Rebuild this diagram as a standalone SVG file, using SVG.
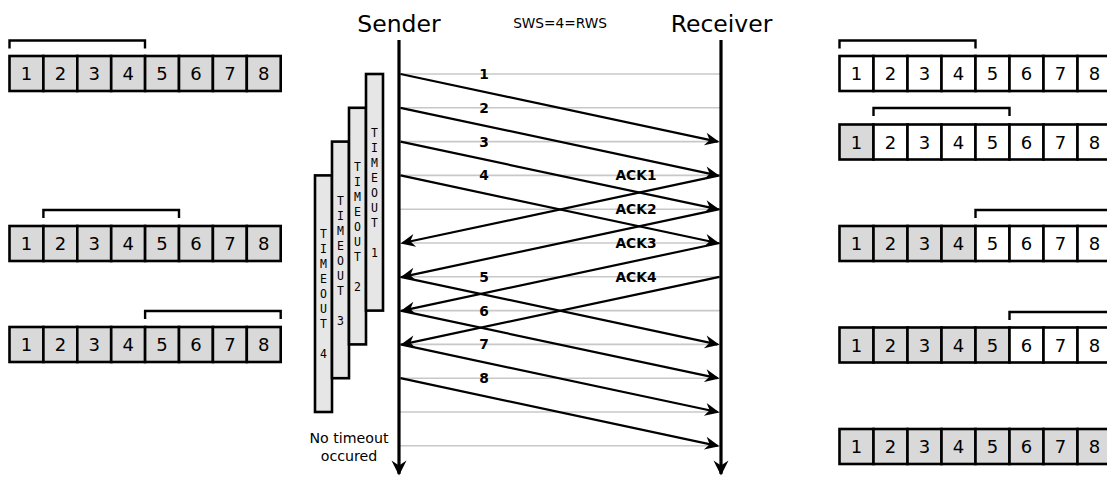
<svg xmlns="http://www.w3.org/2000/svg" width="1107" height="477" viewBox="0 0 1107 477">
<style>
.cell{stroke:#000;stroke-width:2.6}
.g{fill:#d9d9d9}
.w{fill:#fff}
.num{font-family:"DejaVu Sans",sans-serif;font-size:18px;text-anchor:middle;fill:#000}
.br{fill:none;stroke:#000;stroke-width:2.4}
.grid{stroke:#c8c8c8;stroke-width:1.6}
.arr{stroke:#000;stroke-width:2.2;fill:none;marker-end:url(#ah)}
.life{stroke:#000;stroke-width:3.2;fill:none;marker-end:url(#ahb)}
.lbl{font-family:"DejaVu Sans",sans-serif;font-size:13.8px;font-weight:bold;text-anchor:middle}
.to{fill:#e6e6e6;stroke:#000;stroke-width:2.6}
.tot{font-family:"DejaVu Sans Mono",monospace;font-size:11.5px;text-anchor:middle}
.hd{font-family:"DejaVu Sans",sans-serif;font-size:23.5px;text-anchor:middle}
</style>
<defs>
<marker id="ah" markerUnits="userSpaceOnUse" markerWidth="18" markerHeight="16" refX="14" refY="8" orient="auto" overflow="visible">
<path d="M16,8 L1.5,1.5 L6,8 L1.5,14.5 Z" fill="#000"/>
</marker>
<marker id="ahb" markerUnits="userSpaceOnUse" markerWidth="18" markerHeight="16" refX="14" refY="8" orient="auto" overflow="visible">
<path d="M15.5,8 L0.5,0.5 L5.5,8 L0.5,15.5 Z" fill="#000"/>
</marker>
</defs>
<rect width="1107" height="477" fill="#fff"/>

<g id="headers">
<text class="hd" x="399" y="31.5">Sender</text>
<text class="hd" x="721.5" y="31.5">Receiver</text>
<text x="560" y="28" font-family="DejaVu Sans, sans-serif" font-size="13.7px" text-anchor="middle">SWS=4=RWS</text>
</g>

<g id="connectors">
<g id="grid">
<line class="grid" x1="399" y1="74" x2="721" y2="74"/>
<line class="grid" x1="399" y1="107.8" x2="721" y2="107.8"/>
<line class="grid" x1="399" y1="141.6" x2="721" y2="141.6"/>
<line class="grid" x1="399" y1="175.4" x2="721" y2="175.4"/>
<line class="grid" x1="399" y1="209.2" x2="721" y2="209.2"/>
<line class="grid" x1="399" y1="243" x2="721" y2="243"/>
<line class="grid" x1="399" y1="276.8" x2="721" y2="276.8"/>
<line class="grid" x1="399" y1="310.6" x2="721" y2="310.6"/>
<line class="grid" x1="399" y1="344.4" x2="721" y2="344.4"/>
<line class="grid" x1="399" y1="378.2" x2="721" y2="378.2"/>
<line class="grid" x1="399" y1="412" x2="721" y2="412"/>
<line class="grid" x1="399" y1="445.8" x2="721" y2="445.8"/>
</g>
<g id="packets">
<line class="arr" x1="400.5" y1="74" x2="717.5" y2="141.6"/>
<line class="arr" x1="400.5" y1="107.8" x2="717.5" y2="175.4"/>
<line class="arr" x1="400.5" y1="141.6" x2="717.5" y2="209.2"/>
<line class="arr" x1="400.5" y1="175.4" x2="717.5" y2="243"/>
<line class="arr" x1="400.5" y1="276.8" x2="717.5" y2="344.4"/>
<line class="arr" x1="400.5" y1="310.6" x2="717.5" y2="378.2"/>
<line class="arr" x1="400.5" y1="344.4" x2="717.5" y2="412"/>
<line class="arr" x1="400.5" y1="378.2" x2="717.5" y2="445.8"/>
</g>
<g id="acks">
<line class="arr" x1="719.5" y1="175.4" x2="402.5" y2="243"/>
<line class="arr" x1="719.5" y1="209.2" x2="402.5" y2="276.8"/>
<line class="arr" x1="719.5" y1="243" x2="402.5" y2="310.6"/>
<line class="arr" x1="719.5" y1="276.8" x2="402.5" y2="344.4"/>
</g>
<g id="labels">
<text class="lbl" x="484" y="79">1</text>
<text class="lbl" x="484" y="112.8">2</text>
<text class="lbl" x="484" y="146.6">3</text>
<text class="lbl" x="484" y="180.4">4</text>
<text class="lbl" x="484" y="281.8">5</text>
<text class="lbl" x="484" y="315.6">6</text>
<text class="lbl" x="484" y="349.4">7</text>
<text class="lbl" x="484" y="383.2">8</text>
<text class="lbl" x="636" y="180.4">ACK1</text>
<text class="lbl" x="636" y="214.2">ACK2</text>
<text class="lbl" x="636" y="248">ACK3</text>
<text class="lbl" x="636" y="281.8">ACK4</text>
</g>
</g>

<g id="sender">
<line class="life" x1="399" y1="40" x2="399" y2="474"/>
</g>
<g id="receiver">
<line class="life" x1="721" y1="40" x2="721" y2="474"/>
</g>

<g id="timeout4">
<rect class="to" x="315" y="175.4" width="17" height="236.6"/>
<text class="tot" x="323.5" y="238.4">T<tspan x="323.5" dy="15">I</tspan><tspan x="323.5" dy="15">M</tspan><tspan x="323.5" dy="15">E</tspan><tspan x="323.5" dy="15">O</tspan><tspan x="323.5" dy="15">U</tspan><tspan x="323.5" dy="15">T</tspan><tspan x="323.5" dy="30">4</tspan></text>
</g>
<g id="timeout3">
<rect class="to" x="332" y="141.6" width="17" height="236.6"/>
<text class="tot" x="340.5" y="204.6">T<tspan x="340.5" dy="15">I</tspan><tspan x="340.5" dy="15">M</tspan><tspan x="340.5" dy="15">E</tspan><tspan x="340.5" dy="15">O</tspan><tspan x="340.5" dy="15">U</tspan><tspan x="340.5" dy="15">T</tspan><tspan x="340.5" dy="30">3</tspan></text>
</g>
<g id="timeout2">
<rect class="to" x="349" y="107.8" width="17" height="236.6"/>
<text class="tot" x="357.5" y="170.8">T<tspan x="357.5" dy="15">I</tspan><tspan x="357.5" dy="15">M</tspan><tspan x="357.5" dy="15">E</tspan><tspan x="357.5" dy="15">O</tspan><tspan x="357.5" dy="15">U</tspan><tspan x="357.5" dy="15">T</tspan><tspan x="357.5" dy="30">2</tspan></text>
</g>
<g id="timeout1">
<rect class="to" x="366" y="74" width="17" height="236.6"/>
<text class="tot" x="374.5" y="137">T<tspan x="374.5" dy="15">I</tspan><tspan x="374.5" dy="15">M</tspan><tspan x="374.5" dy="15">E</tspan><tspan x="374.5" dy="15">O</tspan><tspan x="374.5" dy="15">U</tspan><tspan x="374.5" dy="15">T</tspan><tspan x="374.5" dy="30">1</tspan></text>
</g>
<g id="note">
<text x="349" y="443" font-family="DejaVu Sans, sans-serif" font-size="14.2px" text-anchor="middle">No timeout<tspan x="349" dy="18">occured</tspan></text>
</g>

<g id="sender-window-1">
<path class="br" d="M9.5,48.5 V40.5 H145 V48.5"/>
<g transform="translate(9.5,56)">
<rect class="cell g" x="0" y="0" width="33.9" height="35"/><rect class="cell g" x="33.9" y="0" width="33.9" height="35"/><rect class="cell g" x="67.8" y="0" width="33.9" height="35"/><rect class="cell g" x="101.7" y="0" width="33.9" height="35"/><rect class="cell g" x="135.6" y="0" width="33.9" height="35"/><rect class="cell g" x="169.5" y="0" width="33.9" height="35"/><rect class="cell g" x="203.4" y="0" width="33.9" height="35"/><rect class="cell g" x="237.3" y="0" width="33.9" height="35"/>
<text class="num" y="24"><tspan x="17">1</tspan><tspan x="50.9">2</tspan><tspan x="84.8">3</tspan><tspan x="118.7">4</tspan><tspan x="152.6">5</tspan><tspan x="186.5">6</tspan><tspan x="220.4">7</tspan><tspan x="254.3">8</tspan></text>
</g>
</g>
<g id="sender-window-2">
<path class="br" d="M43.4,218 V210 H179 V218"/>
<g transform="translate(9.5,226)">
<rect class="cell g" x="0" y="0" width="33.9" height="35"/><rect class="cell g" x="33.9" y="0" width="33.9" height="35"/><rect class="cell g" x="67.8" y="0" width="33.9" height="35"/><rect class="cell g" x="101.7" y="0" width="33.9" height="35"/><rect class="cell g" x="135.6" y="0" width="33.9" height="35"/><rect class="cell g" x="169.5" y="0" width="33.9" height="35"/><rect class="cell g" x="203.4" y="0" width="33.9" height="35"/><rect class="cell g" x="237.3" y="0" width="33.9" height="35"/>
<text class="num" y="24"><tspan x="17">1</tspan><tspan x="50.9">2</tspan><tspan x="84.8">3</tspan><tspan x="118.7">4</tspan><tspan x="152.6">5</tspan><tspan x="186.5">6</tspan><tspan x="220.4">7</tspan><tspan x="254.3">8</tspan></text>
</g>
</g>
<g id="sender-window-3">
<path class="br" d="M145.1,319 V311 H280.7 V319"/>
<g transform="translate(9.5,327)">
<rect class="cell g" x="0" y="0" width="33.9" height="35"/><rect class="cell g" x="33.9" y="0" width="33.9" height="35"/><rect class="cell g" x="67.8" y="0" width="33.9" height="35"/><rect class="cell g" x="101.7" y="0" width="33.9" height="35"/><rect class="cell g" x="135.6" y="0" width="33.9" height="35"/><rect class="cell g" x="169.5" y="0" width="33.9" height="35"/><rect class="cell g" x="203.4" y="0" width="33.9" height="35"/><rect class="cell g" x="237.3" y="0" width="33.9" height="35"/>
<text class="num" y="24"><tspan x="17">1</tspan><tspan x="50.9">2</tspan><tspan x="84.8">3</tspan><tspan x="118.7">4</tspan><tspan x="152.6">5</tspan><tspan x="186.5">6</tspan><tspan x="220.4">7</tspan><tspan x="254.3">8</tspan></text>
</g>
</g>

<g id="receiver-window-1">
<path class="br" d="M839.5,48.5 V40.5 H975.5 V48.5"/>
<g transform="translate(839.5,56)">
<rect class="cell w" x="0" y="0" width="34" height="35"/><rect class="cell w" x="34" y="0" width="34" height="35"/><rect class="cell w" x="68" y="0" width="34" height="35"/><rect class="cell w" x="102" y="0" width="34" height="35"/><rect class="cell w" x="136" y="0" width="34" height="35"/><rect class="cell w" x="170" y="0" width="34" height="35"/><rect class="cell w" x="204" y="0" width="34" height="35"/><rect class="cell w" x="238" y="0" width="34" height="35"/>
<text class="num" y="24"><tspan x="17">1</tspan><tspan x="51">2</tspan><tspan x="85">3</tspan><tspan x="119">4</tspan><tspan x="153">5</tspan><tspan x="187">6</tspan><tspan x="221">7</tspan><tspan x="255">8</tspan></text>
</g>
</g>
<g id="receiver-window-2">
<path class="br" d="M873.5,116 V108 H1009.5 V116"/>
<g transform="translate(839.5,124.5)">
<rect class="cell g" x="0" y="0" width="34" height="35"/><rect class="cell w" x="34" y="0" width="34" height="35"/><rect class="cell w" x="68" y="0" width="34" height="35"/><rect class="cell w" x="102" y="0" width="34" height="35"/><rect class="cell w" x="136" y="0" width="34" height="35"/><rect class="cell w" x="170" y="0" width="34" height="35"/><rect class="cell w" x="204" y="0" width="34" height="35"/><rect class="cell w" x="238" y="0" width="34" height="35"/>
<text class="num" y="24"><tspan x="17">1</tspan><tspan x="51">2</tspan><tspan x="85">3</tspan><tspan x="119">4</tspan><tspan x="153">5</tspan><tspan x="187">6</tspan><tspan x="221">7</tspan><tspan x="255">8</tspan></text>
</g>
</g>
<g id="receiver-window-3">
<path class="br" d="M975.5,218 V210 H1111.5 V218"/>
<g transform="translate(839.5,226)">
<rect class="cell g" x="0" y="0" width="34" height="35"/><rect class="cell g" x="34" y="0" width="34" height="35"/><rect class="cell g" x="68" y="0" width="34" height="35"/><rect class="cell g" x="102" y="0" width="34" height="35"/><rect class="cell w" x="136" y="0" width="34" height="35"/><rect class="cell w" x="170" y="0" width="34" height="35"/><rect class="cell w" x="204" y="0" width="34" height="35"/><rect class="cell w" x="238" y="0" width="34" height="35"/>
<text class="num" y="24"><tspan x="17">1</tspan><tspan x="51">2</tspan><tspan x="85">3</tspan><tspan x="119">4</tspan><tspan x="153">5</tspan><tspan x="187">6</tspan><tspan x="221">7</tspan><tspan x="255">8</tspan></text>
</g>
</g>
<g id="receiver-window-4">
<path class="br" d="M1009.5,320 V312 H1145.5 V320"/>
<g transform="translate(839.5,327.5)">
<rect class="cell g" x="0" y="0" width="34" height="35"/><rect class="cell g" x="34" y="0" width="34" height="35"/><rect class="cell g" x="68" y="0" width="34" height="35"/><rect class="cell g" x="102" y="0" width="34" height="35"/><rect class="cell g" x="136" y="0" width="34" height="35"/><rect class="cell w" x="170" y="0" width="34" height="35"/><rect class="cell w" x="204" y="0" width="34" height="35"/><rect class="cell w" x="238" y="0" width="34" height="35"/>
<text class="num" y="24"><tspan x="17">1</tspan><tspan x="51">2</tspan><tspan x="85">3</tspan><tspan x="119">4</tspan><tspan x="153">5</tspan><tspan x="187">6</tspan><tspan x="221">7</tspan><tspan x="255">8</tspan></text>
</g>
</g>
<g id="receiver-window-5">
<g transform="translate(839.5,429)">
<rect class="cell g" x="0" y="0" width="34" height="35"/><rect class="cell g" x="34" y="0" width="34" height="35"/><rect class="cell g" x="68" y="0" width="34" height="35"/><rect class="cell g" x="102" y="0" width="34" height="35"/><rect class="cell g" x="136" y="0" width="34" height="35"/><rect class="cell g" x="170" y="0" width="34" height="35"/><rect class="cell g" x="204" y="0" width="34" height="35"/><rect class="cell g" x="238" y="0" width="34" height="35"/>
<text class="num" y="24"><tspan x="17">1</tspan><tspan x="51">2</tspan><tspan x="85">3</tspan><tspan x="119">4</tspan><tspan x="153">5</tspan><tspan x="187">6</tspan><tspan x="221">7</tspan><tspan x="255">8</tspan></text>
</g>
</g>
</svg>
